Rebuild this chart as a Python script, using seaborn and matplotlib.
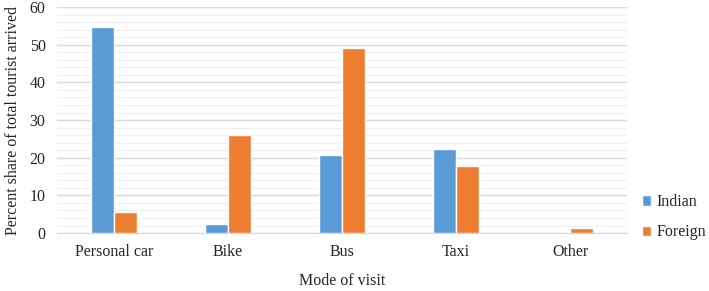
import pandas as pd
import seaborn as sns
import matplotlib.pyplot as plt
from matplotlib.ticker import MultipleLocator

modes = ['Personal car', 'Bike', 'Bus', 'Taxi', 'Other']
indian = [54.6, 2.4, 20.7, 22.2, 0.0]
foreign = [5.5, 26.0, 49.2, 17.8, 1.3]

df = pd.DataFrame({
    'mode': modes * 2,
    'share': indian + foreign,
    'group': ['Indian'] * len(modes) + ['Foreign'] * len(modes),
})

sns.set_style('white')
plt.rcParams['font.family'] = ['Liberation Serif', 'DejaVu Serif']

fig = plt.figure(figsize=(7.09, 2.91), dpi=100)
ax = fig.add_axes([0.08, 0.199, 0.805, 0.777])

sns.barplot(data=df, x='mode', y='share', hue='group',
            palette=['#5B9BD5', '#ED7D31'], width=0.4, ax=ax,
            saturation=1, zorder=3)

ax.set_ylim(0, 60)
ax.yaxis.set_major_locator(MultipleLocator(10))
ax.yaxis.set_minor_locator(MultipleLocator(2))
ax.grid(which='major', axis='y', color='#d9d9d9', linewidth=1, zorder=0)
ax.grid(which='minor', axis='y', color='#f0f0f0', linewidth=1, zorder=0)
ax.set_axisbelow(True)
for s in ['top', 'right', 'left']:
    ax.spines[s].set_visible(False)
ax.spines['bottom'].set_color('#d9d9d9')
ax.tick_params(axis='both', which='both', length=0, labelsize=11.5)
ax.tick_params(axis='x', pad=8)
ax.tick_params(axis='y', pad=8)
ax.set_xlim(-0.5, 4.5)

ax.set_xlabel('Mode of visit', fontsize=11.5, labelpad=9)
ax.set_ylabel('Percent share of total tourist arrived', fontsize=11.5, labelpad=6)

leg = ax.legend(loc='center left', bbox_to_anchor=(1.0, 0.07), frameon=False,
                fontsize=11.5, handlelength=0.6, handleheight=0.6,
                handletextpad=0.3, labelspacing=0.9)
for t in leg.get_texts():
    t.set_fontfamily('Liberation Serif')

fig.savefig('out.png', dpi=100)
